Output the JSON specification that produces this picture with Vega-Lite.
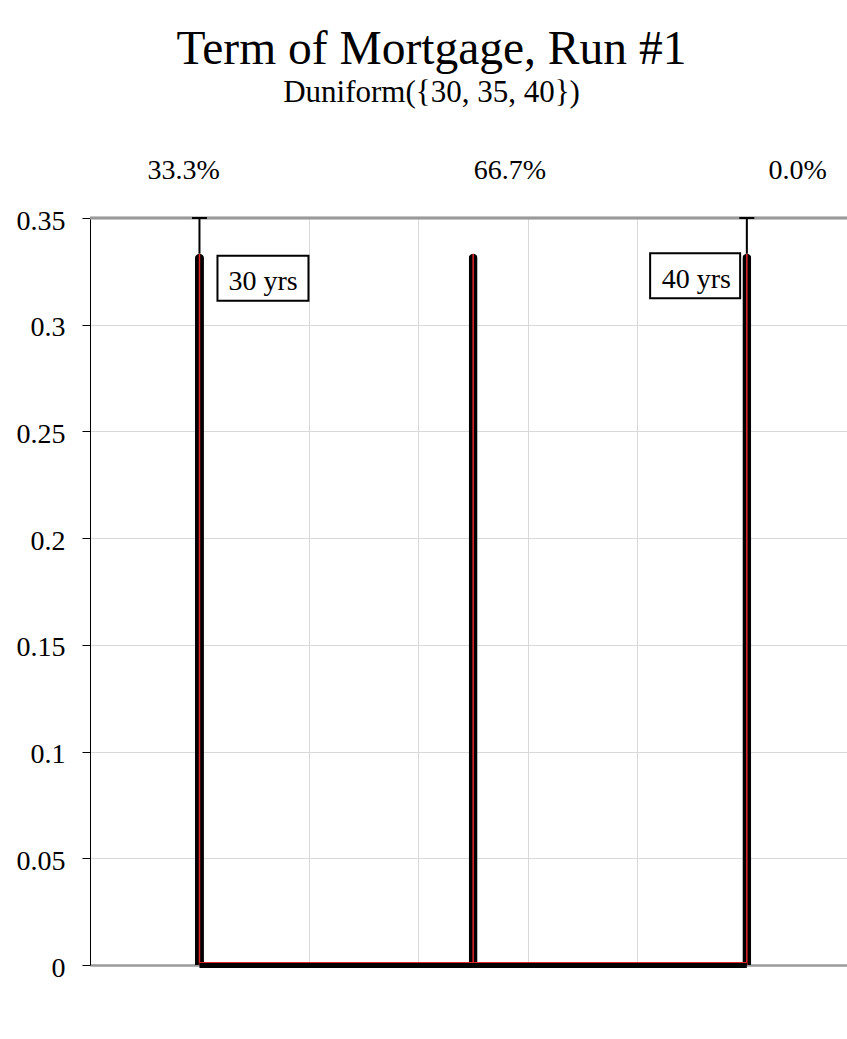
{
  "$schema": "https://vega.github.io/schema/vega-lite/v6.json",
  "width": 757,
  "height": 747,
  "autosize": {"type": "none"},
  "padding": {"left": 90, "top": 218, "right": 0, "bottom": 74},
  "background": "white",
  "config": {"font": "Liberation Serif", "view": {"stroke": null}, "bar": {"continuousBandSize": 9}},
  "title": {
    "text": "Term of Mortgage, Run #1",
    "subtitle": "Duniform({30, 35, 40})",
    "font": "Liberation Serif",
    "subtitleFont": "Liberation Serif",
    "fontSize": 47.5,
    "subtitleFontSize": 31,
    "fontWeight": "normal",
    "color": "black",
    "subtitleColor": "black",
    "anchor": "middle",
    "frame": "group",
    "dx": -37,
    "offset": 49,
    "subtitlePadding": 5
  },
  "datasets": {
    "bars": [
      {"term": 30, "prob": 0.3333},
      {"term": 35, "prob": 0.3333},
      {"term": 40, "prob": 0.3333}
    ],
    "delims": [
      {"term": 30, "prob": 0.3333, "label": "30 yrs"},
      {"term": 40, "prob": 0.3333, "label": "40 yrs"}
    ],
    "pcts": [
      {"pct": "33.3%", "at": 29.71},
      {"pct": "66.7%", "at": 35.67},
      {"pct": "0.0%", "at": 40.93}
    ]
  },
  "layer": [
    {
      "data": {"name": "bars"},
      "mark": {"type": "bar", "color": "black", "size": 9, "cornerRadiusTopLeft": 4.5, "cornerRadiusTopRight": 4.5},
      "encoding": {
        "x": {
          "field": "term",
          "type": "quantitative",
          "scale": {"domain": [28, 41.83], "nice": false, "zero": false, "padding": 0},
          "axis": {
            "values": [30, 32, 34, 36, 38, 40],
            "labels": false,
            "ticks": false,
            "title": null,
            "domainColor": "#9a9a9a",
            "domainWidth": 2.5,
            "grid": true,
            "gridColor": "#d9d9d9",
            "gridWidth": 1
          }
        },
        "y": {
          "field": "prob",
          "type": "quantitative",
          "scale": {"domain": [0, 0.35], "nice": false, "padding": 0},
          "axis": {
            "values": [0, 0.05, 0.1, 0.15, 0.2, 0.25, 0.3, 0.35],
            "format": "~g",
            "title": null,
            "domainColor": "black",
            "domainWidth": 1,
            "tickColor": "black",
            "tickWidth": 1,
            "tickSize": 8,
            "labelFont": "Liberation Serif",
            "labelFontSize": 28,
            "labelColor": "black",
            "labelPadding": 17,
            "labelOffset": 3,
            "labelFlush": false,
            "labelOverlap": false,
            "grid": true,
            "gridColor": "#d9d9d9",
            "gridWidth": 1
          }
        }
      }
    },
    {
      "data": {"name": "bars"},
      "mark": {"type": "bar", "color": "#e3262a", "size": 1.5},
      "encoding": {
        "x": {"field": "term", "type": "quantitative"},
        "y": {"field": "prob", "type": "quantitative"}
      }
    },
    {
      "data": {"name": "bars"},
      "mark": {"type": "rule", "color": "#9a9a9a", "strokeWidth": 2.5},
      "encoding": {
        "y": {"datum": 0.35, "type": "quantitative"}
      }
    },
    {
      "data": {"name": "bars"},
      "mark": {"type": "rule", "color": "black", "strokeWidth": 6},
      "encoding": {
        "x": {"field": "term", "aggregate": "min", "type": "quantitative"},
        "x2": {"field": "term", "aggregate": "max"},
        "y": {"datum": 0, "type": "quantitative"}
      }
    },
    {
      "data": {"name": "bars"},
      "mark": {"type": "rule", "color": "#e3262a", "strokeWidth": 1, "yOffset": -2.5},
      "encoding": {
        "x": {"field": "term", "aggregate": "min", "type": "quantitative"},
        "x2": {"field": "term", "aggregate": "max"},
        "y": {"datum": 0, "type": "quantitative"}
      }
    },
    {
      "data": {"name": "delims"},
      "mark": {"type": "point", "shape": "M0,0L0,-1M-0.21,-1L0.21,-1", "size": 5069, "filled": false, "stroke": "black", "strokeWidth": 2, "opacity": 1},
      "encoding": {
        "x": {"field": "term", "type": "quantitative"},
        "y": {"field": "prob", "type": "quantitative"}
      }
    },
    {
      "data": {"name": "delims"},
      "transform": [{"filter": "datum.term === 30"}],
      "mark": {"type": "point", "shape": "M-1,-0.4945L1,-0.4945L1,0.4945L-1,0.4945Z", "size": 8281, "filled": true, "fill": "white", "stroke": "black", "strokeWidth": 2, "opacity": 1, "fillOpacity": 1, "xOffset": 63.5, "yOffset": 24.7},
      "encoding": {
        "x": {"field": "term", "type": "quantitative"},
        "y": {"field": "prob", "type": "quantitative"}
      }
    },
    {
      "data": {"name": "delims"},
      "transform": [{"filter": "datum.term === 30"}],
      "mark": {"type": "text", "fontSize": 28, "font": "Liberation Serif", "color": "black", "align": "center", "baseline": "alphabetic", "dx": 63.6, "dy": 36.4},
      "encoding": {
        "x": {"field": "term", "type": "quantitative"},
        "y": {"field": "prob", "type": "quantitative"},
        "text": {"field": "label", "type": "nominal"}
      }
    },
    {
      "data": {"name": "delims"},
      "transform": [{"filter": "datum.term === 40"}],
      "mark": {"type": "point", "shape": "M-1,-0.5L1,-0.5L1,0.5L-1,0.5Z", "size": 8100, "filled": true, "fill": "white", "stroke": "black", "strokeWidth": 2, "opacity": 1, "fillOpacity": 1, "xOffset": -51.7, "yOffset": 22.1},
      "encoding": {
        "x": {"field": "term", "type": "quantitative"},
        "y": {"field": "prob", "type": "quantitative"}
      }
    },
    {
      "data": {"name": "delims"},
      "transform": [{"filter": "datum.term === 40"}],
      "mark": {"type": "text", "fontSize": 28, "font": "Liberation Serif", "color": "black", "align": "center", "baseline": "alphabetic", "dx": -50.5, "dy": 34.7},
      "encoding": {
        "x": {"field": "term", "type": "quantitative"},
        "y": {"field": "prob", "type": "quantitative"},
        "text": {"field": "label", "type": "nominal"}
      }
    },
    {
      "data": {"name": "pcts"},
      "mark": {"type": "text", "fontSize": 28, "font": "Liberation Serif", "color": "black", "align": "center", "baseline": "alphabetic", "dy": -39},
      "encoding": {
        "x": {"field": "at", "type": "quantitative"},
        "y": {"datum": 0.35, "type": "quantitative"},
        "text": {"field": "pct", "type": "nominal"}
      }
    }
  ]
}
